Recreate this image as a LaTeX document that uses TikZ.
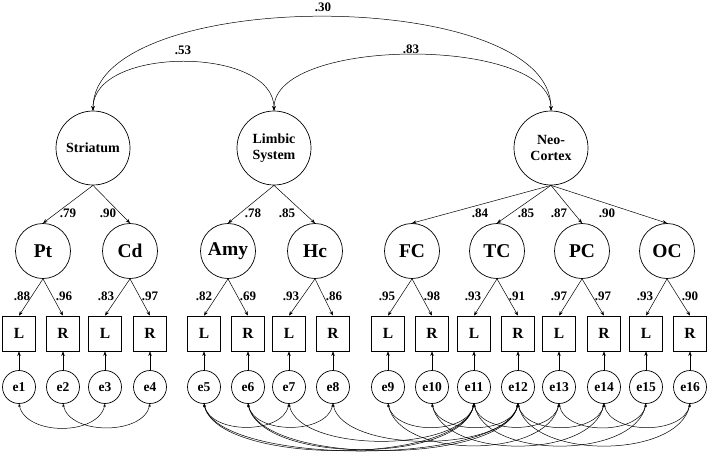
\documentclass[tikz,border=0pt]{standalone}
\usepackage{fontspec}
\setmainfont{Liberation Serif}
\usetikzlibrary{arrows.meta,positioning}

\tikzset{
  latent/.style={circle,draw,line width=0.7pt,minimum size=74pt,inner sep=0pt,align=center,font=\fontsize{14}{16}\selectfont\bfseries},
  factor/.style={circle,draw,line width=0.7pt,minimum size=55pt,inner sep=0pt,font=\fontsize{19.5}{22}\selectfont\bfseries},
  obs/.style={rectangle,draw,line width=0.8pt,minimum width=33pt,minimum height=35pt,inner sep=0pt,font=\fontsize{15.5}{18}\selectfont\bfseries},
  err/.style={circle,draw,line width=0.7pt,minimum width=31pt,minimum height=33pt,inner sep=0pt,font=\fontsize{13.5}{16}\selectfont\bfseries},
  loadlab/.style={inner sep=0pt,font=\fontsize{13}{15}\selectfont\bfseries},
  regr/.style={-{Stealth[length=4.5pt,width=3.5pt]},line width=0.5pt},
  covar/.style={{Stealth[length=4.5pt,width=3.5pt]}-{Stealth[length=4.5pt,width=3.5pt]},line width=0.5pt},
  rescov/.style={{Stealth[length=3pt,width=2.5pt]}-{Stealth[length=3pt,width=2.5pt]},line width=0.5pt},
}

\begin{document}
\begin{tikzpicture}[x=1pt,y=1pt]
\useasboundingbox (0,0) rectangle (708,-451);

% second-order factors
\node[latent] (stri) at (93,-148) {Striatum};
\node[latent] (limb) at (274,-148) {Limbic\\System};
\node[latent] (neo) at (551,-148) {Neo-\\Cortex};

% first-order factors
\node[factor] (pt) at (43,-251) {Pt};
\node[factor] (cd) at (130,-251) {Cd};
\node[factor] (amy) at (228,-251) {Amy};
\node[factor] (hc) at (315,-251) {Hc};
\node[factor] (fc) at (412,-251) {FC};
\node[factor] (tc) at (497,-251) {TC};
\node[factor] (pc) at (582,-251) {PC};
\node[factor] (oc) at (667,-251) {OC};

% indicators and residuals
\foreach \x [count=\i] in {19,63,105,150,204,248,289,333,388,432,474,518,559,604,646,690}{
  \node[obs] (m\i) at (\x,-333.5) {\ifodd\i\relax L\else R\fi};
  \node[err] (e\i) at (\x,-387) {e\i};
  \draw[regr] (e\i.north) -- (m\i.south);
}

% factor correlations
\draw[covar] (stri.north) to[out=90,in=90,looseness=0.7] (neo.north);
\draw[covar] (stri.north) to[out=90,in=90,looseness=0.92] (limb.north);
\draw[covar] (limb.north) to[out=90,in=90,looseness=0.69] (neo.north);
\node[loadlab] (r30) at (323,-7) {.30};
\node[loadlab] (r53) at (183,-50) {.53};
\node[loadlab] (r83) at (411,-49) {.83};

% second-order loadings
\draw[regr] (stri.south) -- (pt.north);
\draw[regr] (stri.south) -- (cd.north);
\draw[regr] (limb.south) -- (amy.north);
\draw[regr] (limb.south) -- (hc.north);
\draw[regr] (neo.south) -- (fc.north);
\draw[regr] (neo.south) -- (tc.north);
\draw[regr] (neo.south) -- (pc.north);
\draw[regr] (neo.south) -- (oc.north);
\foreach \x/\v in {68/.79,108/.90,253/.78,287/.85,480/.84,526/.85,559/.87,607/.90}
  \node[loadlab] at (\x,-213) {\v};

% first-order loadings
\foreach \f [count=\k] in {pt,cd,amy,hc,fc,tc,pc,oc}{
  \pgfmathtruncatemacro\lft{2*\k-1}
  \pgfmathtruncatemacro\rgt{2*\k}
  \draw[regr] (\f.south) -- (m\lft.north);
  \draw[regr] (\f.south) -- (m\rgt.north);
}
\foreach \x/\v in {22/.88,64/.96,106/.83,150/.97,204/.82,248/.69,291/.93,334/.86,387/.95,432/.98,473/.93,517/.91,559/.97,603/.97,645/.93,690/.90}
  \node[loadlab] at (\x,-296) {\v};

% residual covariances
\foreach \a/\b/\lo in {1/3/0.98,2/4/0.95,5/7/0.95,6/8/0.95,9/11/0.95,10/12/0.95,11/13/0.95,12/14/0.95,13/15/0.95,14/16/0.95,
    9/13/0.85,10/14/0.85,11/15/0.85,12/16/0.85,5/11/0.6,5/12/0.52,6/11/0.7,6/12/0.6,7/11/0.7,8/12/0.7}
  \draw[rescov] (e\a.south) to[out=-78,in=-102,looseness=\lo] (e\b.south);
\end{tikzpicture}
\end{document}
